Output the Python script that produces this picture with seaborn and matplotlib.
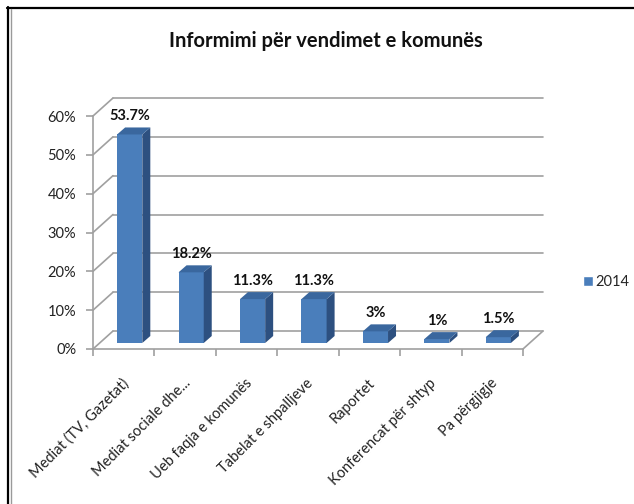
import matplotlib
matplotlib.use('Agg')
import matplotlib.pyplot as plt
from matplotlib.patches import Polygon
from matplotlib.lines import Line2D
from matplotlib.transforms import ScaledTranslation
import pandas as pd
import seaborn as sns

# Chart data
categories = ['Mediat (TV, Gazetat)', 'Mediat sociale dhe...', 'Ueb faqja e komunës',
              'Tabelat e shpalljeve', 'Raportet', 'Konferencat për shtyp', 'Pa përgjigje']
values = [53.7, 18.2, 11.3, 11.3, 3, 1, 1.5]
value_labels = ['53.7%', '18.2%', '11.3%', '11.3%', '3%', '1%', '1.5%']
yticks = [0, 10, 20, 30, 40, 50, 60]
series = ['2014'] * len(categories)
title = 'Informimi për vendimet e komunës'

sns.set_style('white')
plt.rcParams['font.family'] = ['Lato', 'DejaVu Sans']

W, H = 634, 504
fig = plt.figure(figsize=(W / 100, H / 100), dpi=100)
ax = fig.add_axes([93 / W, 1 - 349 / H, 430 / W, 233 / H])

df = pd.DataFrame({'cat': categories, 'val': values, 'year': series})
sns.barplot(data=df, x='cat', y='val', hue='year', palette=['#4a7ebb'],
            width=0.41, saturation=1, ax=ax, zorder=3)
ax.set_xlim(-0.5, len(categories) - 0.5)
ax.set_ylim(0, 60)

grid_col = '#a0a0a0'
front_col, side_col, top_col = '#4a7ebb', '#2d5080', '#3a679e'

# axes, ticks and labels
for s in ['top', 'right']:
    ax.spines[s].set_visible(False)
for s in ['left', 'bottom']:
    ax.spines[s].set_color(grid_col)
    ax.spines[s].set_linewidth(1.2)
ax.set_yticks(yticks)
ax.set_yticklabels([f'{v}%' for v in yticks], fontsize=10.5, color='#222222')
ax.set_xticks(range(len(categories)))
ax.set_xticklabels(categories, rotation=45, ha='right', va='center',
                   rotation_mode='anchor', fontsize=10.5, color='#222222')
ax.set_xticks([i - 0.5 for i in range(len(categories) + 1)], minor=True)
ax.tick_params(axis='y', length=5, width=1.2, color=grid_col, pad=7, left=True)
ax.tick_params(axis='x', which='major', length=0, pad=23)
ax.tick_params(axis='x', which='minor', length=5, width=1.2, color=grid_col, bottom=True)
ax.set_xlabel('')
ax.set_ylabel('')
for lbl in ax.get_xticklabels():
    lbl.set_transform(lbl.get_transform() + ScaledTranslation(0.03, 0, fig.dpi_scale_trans))

# pseudo-3D depth (pixels)
DX, DY = 20, 18      # back wall offset
BX, BY = 6, 6        # bar front offset
bx, by = 8, 7        # bar depth

inv = fig.transFigure.inverted()
to_fig = lambda pts: inv.transform(pts)

x_left, y0 = ax.transData.transform((-0.5, 0))
x_right, _ = ax.transData.transform((len(categories) - 0.5, 0))

def add_line(pts, col=grid_col, lw=1.2, z=1):
    p = to_fig(pts)
    ax.add_line(Line2D(p[:, 0], p[:, 1], color=col, lw=lw, transform=fig.transFigure,
                       clip_on=False, zorder=z))

for t in yticks:
    _, yt = ax.transData.transform((-0.5, t))
    add_line([(x_left, yt), (x_left + DX, yt + DY)])
    add_line([(x_left + DX, yt + DY), (x_right + DX, yt + DY)])
add_line([(x_right, y0), (x_right + DX, y0 + DY)])

# bars: shift front faces and add side/top faces
offset = ScaledTranslation(BX / 100, BY / 100, fig.dpi_scale_trans)
for bar, lab in zip(ax.patches, value_labels):
    x0, w, h = bar.get_x(), bar.get_width(), bar.get_height()
    (xl, yb), (xr, yh) = ax.transData.transform([(x0, 0), (x0 + w, h)])
    bar.set_transform(ax.transData + offset)
    bar.set_edgecolor('none')
    bar.set_clip_on(False)
    side = [(xr + BX, yb + BY), (xr + BX, yh + BY), (xr + BX + bx, yh + BY + by), (xr + BX + bx, yb + BY + by)]
    top = [(xl + BX, yh + BY), (xr + BX, yh + BY), (xr + BX + bx, yh + BY + by), (xl + BX + bx, yh + BY + by)]
    ax.add_patch(Polygon(to_fig(side), closed=True, fc=side_col, ec='none',
                         transform=fig.transFigure, clip_on=False, zorder=4))
    ax.add_patch(Polygon(to_fig(top), closed=True, fc=top_col, ec='none',
                         transform=fig.transFigure, clip_on=False, zorder=4))
    ax.annotate(lab, (x0 + w / 2, h), xytext=(BX * 0.72, (BY + by + 4) * 0.72),
                textcoords='offset points', ha='center', va='bottom',
                fontsize=10.5, fontweight='bold', color='#111111', zorder=5)

ax.set_xlim(-0.5, len(categories) - 0.5)
ax.set_ylim(0, 60)

# legend
ax.legend(loc='center left', bbox_to_anchor=(583 / W, 1 - 282 / H), bbox_transform=fig.transFigure,
          frameon=False, fontsize=10.5, handlelength=0.7, handleheight=0.7,
          handletextpad=0.15, borderpad=0, borderaxespad=0)

# title
fig.text(326 / W, 1 - 41 / H, title, ha='center', va='center', fontsize=14.5,
         fontweight='bold', color='#111111')

# outer frame (top and left edges)
fig.add_artist(Line2D([7 / W, 1], [1 - 8 / H, 1 - 8 / H], color='black', lw=1.6,
                      transform=fig.transFigure))
fig.add_artist(Line2D([8 / W, 8 / W], [0, 1 - 7 / H], color='black', lw=1.6,
                      transform=fig.transFigure))
fig.add_artist(Line2D([10.5 / W, 10.5 / W], [0, 1 - 9 / H], color='#9a9a9a', lw=1,
                      transform=fig.transFigure))

fig.savefig('out.png', dpi=100)
